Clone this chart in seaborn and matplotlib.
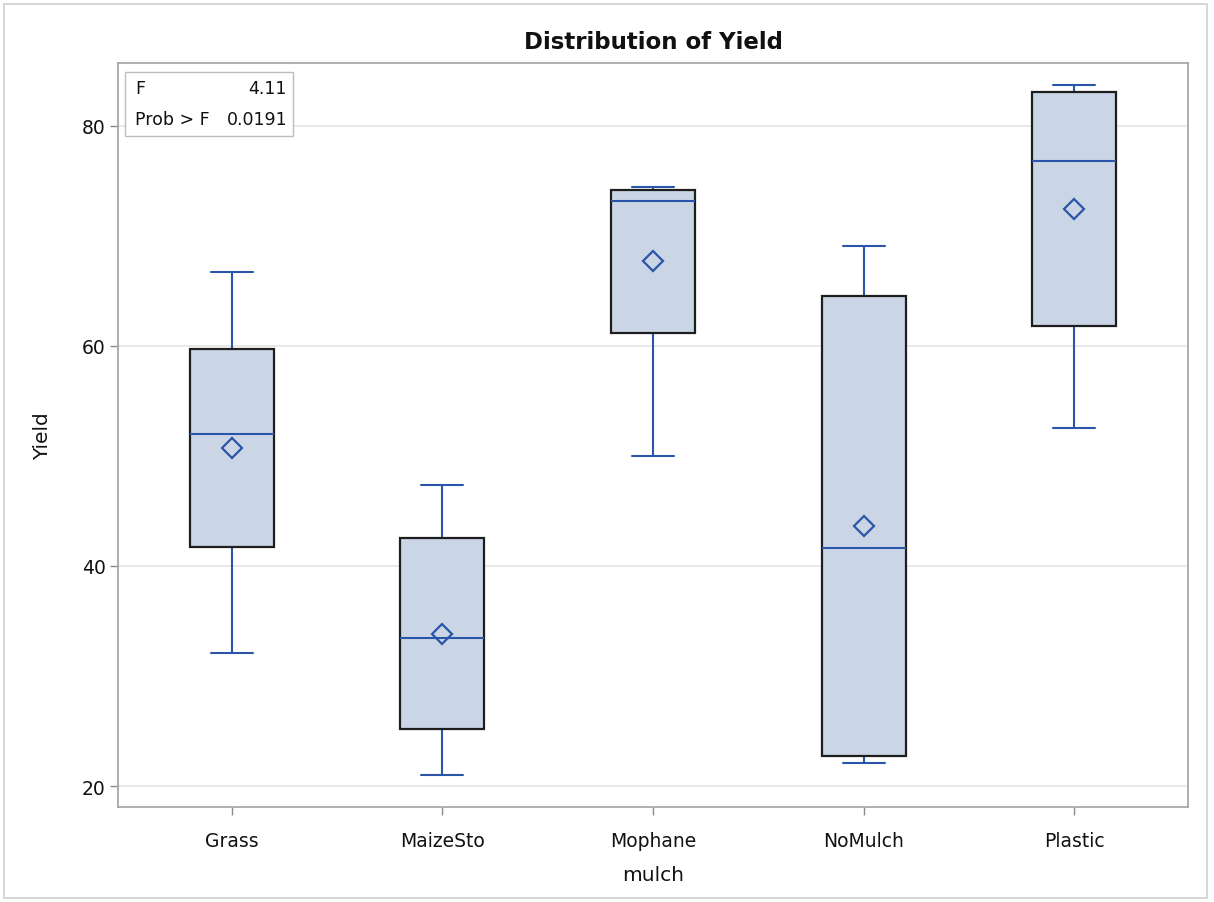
import numpy as np
import pandas as pd
import matplotlib
matplotlib.use("Agg")
import matplotlib.pyplot as plt
from matplotlib.patches import Rectangle
import seaborn as sns

# Yield observations for each mulch treatment (four plots per treatment)
mulch = ["Grass", "MaizeSto", "Mophane", "NoMulch", "Plastic"]
grass = [32.1, 51.3, 52.7, 66.7]
maizesto = [21.0, 29.4, 37.6, 47.4]
mophane = [50.0, 72.4, 74.0, 74.4]
nomulch = [22.1, 23.4, 59.9, 69.1]
plastic = [52.5, 71.1, 82.5, 83.7]
y_ticks = [20, 40, 60, 80]
f_value = "4.11"
p_value = "0.0191"

groups = [grass, maizesto, mophane, nomulch, plastic]
raw = pd.DataFrame(
    [(m, v) for m, vals in zip(mulch, groups) for v in vals],
    columns=["mulch", "Yield"],
)

# Five-number summary per treatment, quartiles by the midpoint rule;
# a five-point sample reproduces these exactly as its own quartiles.
summary_rows = []
for m, vals in zip(mulch, groups):
    v = np.asarray(vals, dtype=float)
    q1, med, q3 = np.percentile(v, [25, 50, 75], method="midpoint")
    for s in (v.min(), q1, med, q3, v.max()):
        summary_rows.append((m, s))
summary = pd.DataFrame(summary_rows, columns=["mulch", "Yield"])

BLUE = "#2B55A8"
FILL = "#CAD5E5"
EDGE = "#1E1E1E"
GRID = "#E4E4E4"
FRAME = "#A8A8A8"
TEXT = "#111111"

sns.set_theme(style="white")
plt.rcParams["font.family"] = ["DejaVu Sans"]

fig = plt.figure(figsize=(12.14, 9.03), dpi=100)
ax = fig.add_axes([118 / 1214, 1 - 808 / 903, 1070 / 1214, 744 / 903])

sns.boxplot(
    data=summary, x="mulch", y="Yield", order=mulch, ax=ax,
    width=0.4, whis=np.inf, showfliers=False, fill=True,
    boxprops=dict(facecolor=FILL, edgecolor=EDGE, linewidth=1.6, zorder=2),
    whiskerprops=dict(color=BLUE, linewidth=1.5, zorder=1.5),
    capprops=dict(color=BLUE, linewidth=1.5, zorder=1.5),
    medianprops=dict(color=BLUE, linewidth=1.5, zorder=3),
)

sns.pointplot(
    data=raw, x="mulch", y="Yield", order=mulch, ax=ax,
    estimator="mean", errorbar=None, linestyle="none", marker="D",
    color=BLUE, markersize=10, markerfacecolor="none",
    markeredgecolor=BLUE, markeredgewidth=1.6, zorder=4,
)

ax.set_xlim(-0.54, 4.54)
ax.set_ylim(18.1, 85.7)
ax.set_yticks(y_ticks)
ax.set_yticklabels([str(t) for t in y_ticks])
ax.yaxis.grid(True, color=GRID, linewidth=1.2, zorder=0)
ax.set_axisbelow(True)

for sp in ax.spines.values():
    sp.set_visible(True)
    sp.set_color(FRAME)
    sp.set_linewidth(1.3)

ax.tick_params(axis="both", which="major", length=6, width=1.0,
               color="#8A8A8A", labelsize=13.5, labelcolor=TEXT,
               direction="out", left=True, bottom=True)
ax.tick_params(axis="x", pad=11)
ax.tick_params(axis="y", pad=3)

ax.set_xlabel("mulch", fontsize=14.5, color=TEXT, labelpad=11)
ax.set_ylabel("Yield", fontsize=14.5, color=TEXT, labelpad=21)
ax.set_title("Distribution of Yield", fontsize=16.5, fontweight="bold",
             color=TEXT, pad=11)

# ANOVA inset
ax.add_patch(Rectangle((0.0065, 0.902), 0.157, 0.086, transform=ax.transAxes,
                       facecolor="white", edgecolor="#BDBDBD", linewidth=1.0,
                       zorder=5))
ax.text(0.016, 0.967, "F", transform=ax.transAxes, fontsize=12.5,
        va="center", ha="left", color=TEXT, zorder=6)
ax.text(0.158, 0.967, f_value, transform=ax.transAxes, fontsize=12.5,
        va="center", ha="right", color=TEXT, zorder=6)
ax.text(0.016, 0.925, "Prob > F", transform=ax.transAxes, fontsize=12.5,
        va="center", ha="left", color=TEXT, zorder=6)
ax.text(0.158, 0.925, p_value, transform=ax.transAxes, fontsize=12.5,
        va="center", ha="right", color=TEXT, zorder=6)

# Outer graph frame
fig.patches.append(Rectangle((4 / 1214, 4 / 903), 1203 / 1214, 894 / 903,
                             transform=fig.transFigure, fill=False,
                             edgecolor="#CFCFCF", linewidth=1.2))

fig.savefig("out.png", dpi=100)
